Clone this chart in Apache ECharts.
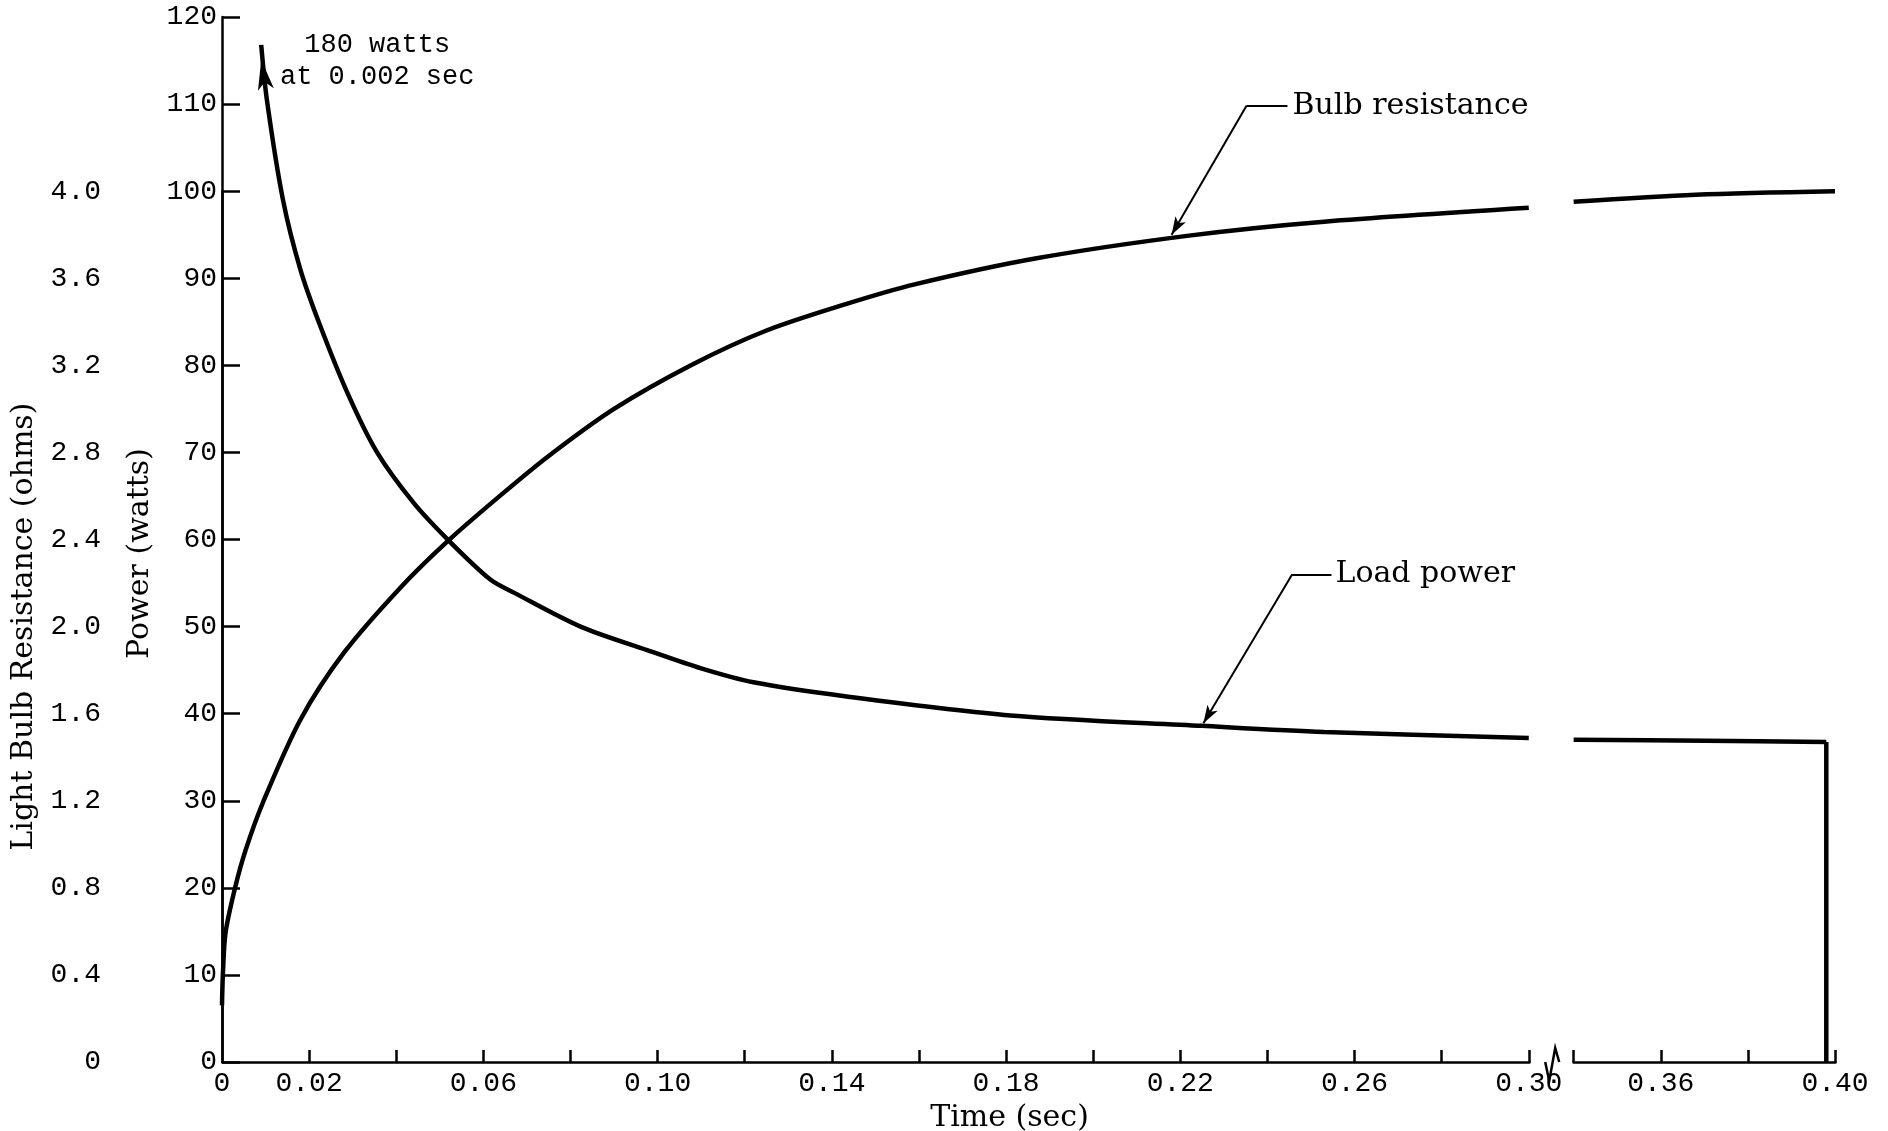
<!DOCTYPE html>
<html>
<head>
<meta charset="utf-8">
<title>Light bulb resistance and load power</title>
<script src="https://cdn.jsdelivr.net/npm/echarts@6/dist/echarts.min.js"></script>
<style>
  html, body { margin: 0; padding: 0; background: #fff; }
  #chart { width: 1888px; height: 1131px; }
</style>
</head>
<body>
<div id="chart"></div>
<script>
// bulb resistance (ohms) vs time (sec); null = gap at the axis break
const resT = [0, 0.0002, 0.0008, 0.003, 0.0054, 0.0094, 0.018, 0.028, 0.041, 0.052, 0.064, 0.075, 0.09,
  0.108, 0.125, 0.143, 0.159, 0.187, 0.222, 0.253, 0.30, null, 0.34, 0.368, 0.40];
const resOhms = [0.26, 0.40, 0.592, 0.80, 0.972, 1.192, 1.572, 1.88, 2.18, 2.396, 2.604, 2.784, 3.0,
  3.204, 3.36, 3.48, 3.572, 3.692, 3.796, 3.86, 3.924, null, 3.952, 3.984, 4.0];

// load power (watts) vs time (sec); last two points are the switch-off drop
const powT = [0.009, 0.0103, 0.014, 0.018, 0.0225, 0.029, 0.0356, 0.044, 0.052, 0.0616, 0.067, 0.0823,
  0.0976, 0.11, 0.122, 0.143, 0.181, 0.225, 0.253, 0.30, null, 0.34, 0.3703, 0.398, null, 0.398, 0.398];
const powW = [116.8, 110.5, 99.0, 91.0, 84.6, 76.6, 70.0, 64.2, 59.9, 55.4, 53.9, 50.0,
  47.3, 45.2, 43.6, 42.0, 39.8, 38.6, 37.9, 37.2, null, 37.0, 36.9, 36.75, null, 36.75, 0];

const timeTicks = [0.02, 0.04, 0.06, 0.08, 0.10, 0.12, 0.14, 0.16, 0.18, 0.20, 0.22, 0.24, 0.26, 0.28, 0.30,
  0.34, 0.36, 0.38, 0.40];
const timeLabels = [0, 0.02, 0.06, 0.10, 0.14, 0.18, 0.22, 0.26, 0.30, 0.36, 0.40];
const timeBreak = [0.30, 0.34];

const MONO = 'Liberation Mono';
const SERIF = 'DejaVu Serif';

function pairs(xs, ys) {
  return xs.map((x, i) => (x === null ? ['-', '-'] : [x, ys[i]]));
}

const powData = pairs(powT, powW);
powData[0] = {
  value: powData[0],
  symbol: 'arrow',
  symbolSize: [12, 30],
  symbolRotate: 9,
  symbolOffset: [0, '50%']
};

const timeAxis = {
  type: 'value',
  min: 0,
  max: 0.40,
  interval: 0.02,
  breaks: [{ start: timeBreak[0], end: timeBreak[1], gap: 0.0103 }],
  breakArea: { show: false },
  splitLine: { show: false },
  axisLine: { lineStyle: { color: '#000', width: 2.5 } },
  axisTick: {
    inside: true,
    length: 12,
    customValues: timeTicks,
    lineStyle: { color: '#000', width: 2.5 }
  },
  axisLabel: {
    margin: 8,
    fontFamily: MONO,
    fontSize: 28,
    color: '#000',
    customValues: timeLabels,
    formatter: v => (v === 0 ? '0' : v.toFixed(2))
  }
};

const chart = echarts.init(document.getElementById('chart'));

chart.setOption({
  animation: false,
  backgroundColor: '#fff',
  grid: [
    { left: 222, right: 53, top: 17, bottom: 69, outerBoundsMode: 'none' },
    { left: 222, right: 53, top: 191.2, bottom: 69, outerBoundsMode: 'none' }
  ],
  xAxis: [
    Object.assign({}, timeAxis, {
      gridIndex: 0,
      name: 'Time (sec)',
      nameLocation: 'middle',
      nameGap: 36,
      nameTextStyle: { fontFamily: SERIF, fontSize: 30, color: '#000', padding: [0, 38, 0, 0] }
    }),
    Object.assign({}, timeAxis, { gridIndex: 1, show: false })
  ],
  yAxis: [
    {
      type: 'value',
      gridIndex: 0,
      min: 0,
      max: 120,
      interval: 10,
      name: 'Power (watts)',
      nameLocation: 'middle',
      nameGap: 40,
      nameTextStyle: { fontFamily: SERIF, fontSize: 30, color: '#000', padding: [0, 28, 0, 0] },
      splitLine: { show: false },
      axisLine: { show: true, lineStyle: { color: '#000', width: 2.5 } },
      axisTick: { show: true, inside: true, length: 18, lineStyle: { color: '#000', width: 2.5 } },
      axisLabel: { margin: 5, fontFamily: MONO, fontSize: 28, color: '#000' }
    },
    {
      type: 'value',
      gridIndex: 1,
      position: 'left',
      offset: 116,
      min: 0,
      max: 4,
      interval: 0.4,
      name: 'Light Bulb Resistance (ohms)',
      nameLocation: 'middle',
      nameGap: 67,
      nameTextStyle: { fontFamily: SERIF, fontSize: 30, color: '#000' },
      splitLine: { show: false },
      axisLine: { show: true, lineStyle: { color: '#000', width: 2.5 } },
      axisTick: { show: true, inside: true, length: 18, lineStyle: { color: '#000', width: 2.5 } },
      axisLabel: {
        margin: 5,
        fontFamily: MONO,
        fontSize: 28,
        color: '#000',
        formatter: v => (v === 0 ? '0' : v.toFixed(1))
      }
    }
  ],
  series: [
    {
      name: 'Load power',
      type: 'line',
      xAxisIndex: 0,
      yAxisIndex: 0,
      data: powData,
      symbol: 'none',
      showSymbol: true,
      itemStyle: { color: '#000' },
      smooth: 0.3,
      connectNulls: false,
      clip: false,
      lineStyle: { color: '#000', width: 4.5 },
      markPoint: {
        silent: true,
        symbol: 'circle',
        symbolSize: 0,
        data: [{
          coord: [powT[0], powW[0]],
          label: {
            show: true,
            formatter: '180 watts\nat 0.002 sec',
            position: 'right',
            distance: 0,
            align: 'center',
            offset: [116, 16],
            lineHeight: 32,
            fontFamily: MONO,
            fontSize: 27,
            color: '#000'
          }
        }]
      },
      markLine: {
        silent: true,
        symbol: ['none', 'none'],
        lineStyle: { color: '#000', width: 2, type: 'solid' },
        label: { show: false },
        data: [
          [{ coord: [0.218, 95.0], symbol: 'arrow', symbolSize: [9, 18] }, { coord: [0.2352, 109.8] }],
          [{ coord: [0.2352, 109.8] }, {
            coord: [0.2446, 109.8],
            label: {
              show: true, position: 'end', distance: 5, formatter: 'Bulb resistance',
              fontFamily: SERIF, fontSize: 30, color: '#000'
            }
          }],
          [{ coord: [0.2253, 38.9], symbol: 'arrow', symbolSize: [9, 18] }, { coord: [0.2457, 56.0] }],
          [{ coord: [0.2457, 56.0] }, {
            coord: [0.2547, 56.0],
            label: {
              show: true, position: 'end', distance: 4, formatter: 'Load power',
              fontFamily: SERIF, fontSize: 30, color: '#000'
            }
          }]
        ]
      }
    },
    {
      name: 'Bulb resistance',
      type: 'line',
      xAxisIndex: 1,
      yAxisIndex: 1,
      data: pairs(resT, resOhms),
      symbol: 'none',
      smooth: 0.3,
      connectNulls: false,
      clip: false,
      lineStyle: { color: '#000', width: 4.5 }
    }
  ]
});

// small zigzag on the time axis where it is broken
const xa = chart.convertToPixel({ xAxisIndex: 0 }, 0.30);
const xb = chart.convertToPixel({ xAxisIndex: 0 }, 0.34);
const y0 = chart.convertToPixel({ yAxisIndex: 0 }, 0);
const m = (xa + xb) / 2;
chart.setOption({
  graphic: [
    { type: 'rect', z: 100, shape: { x: m - 5, y: y0 - 3, width: 12, height: 6 }, style: { fill: '#fff' } },
    {
      type: 'polyline', z: 101,
      shape: { points: [[m - 6, y0], [m - 2, y0 + 19], [m + 4, y0 - 14], [m + 8, y0]] },
      style: { stroke: '#000', lineWidth: 2.5, fill: null }
    }
  ]
});
</script>
</body>
</html>
